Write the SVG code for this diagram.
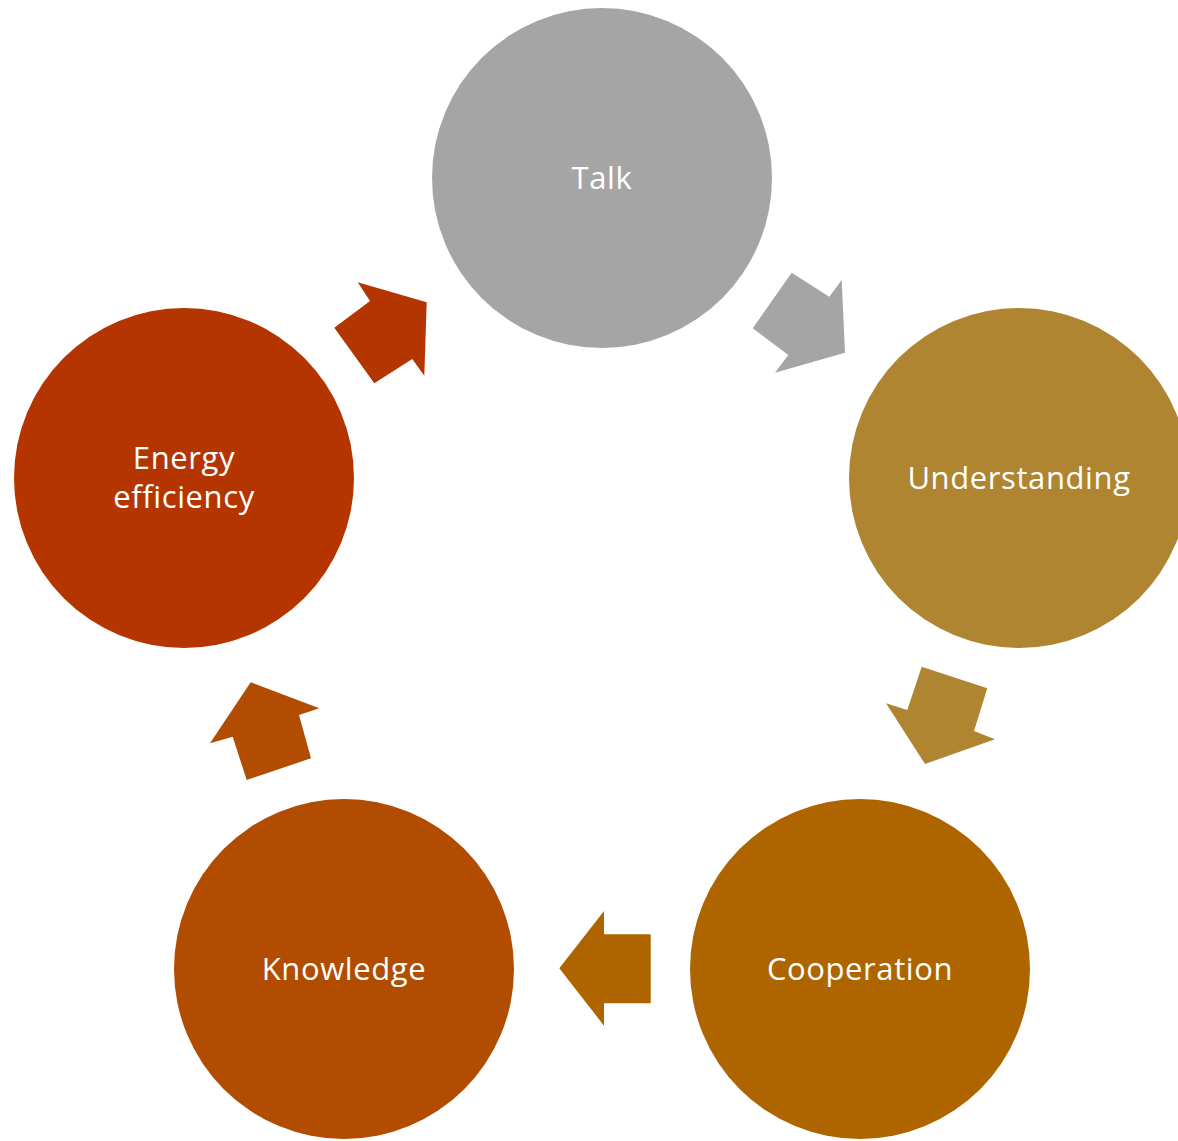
<svg xmlns="http://www.w3.org/2000/svg" width="1178" height="1141" viewBox="0 0 1178 1141">
<style>
text{font-family:"Open Sans","Noto Sans","Liberation Sans",sans-serif;font-size:31px;letter-spacing:0.6px;fill:#FFFFFF;text-anchor:middle}
</style>
<rect width="1178" height="1141" fill="#FFFFFF"/>
<g id="connectors">
<polygon fill="#A5A5A5" points="791.7,272.7 829.3,296.7 841.7,280 845,352.7 775,372.7 788.3,355 752.7,328.3"/>
<polygon fill="#AF8531" points="921.7,666.7 987.3,688.3 974,731 995,739.3 925,764 886,703.3 907.3,710"/>
<polygon fill="#AE6500" points="604,911 604,934.3 650.7,934.3 650.7,1003.3 604,1003.3 604,1025.7 559.3,968.3"/>
<polygon fill="#B14C00" points="250.7,682.3 319.3,708.3 299,715 311,758.3 246.7,780 232.7,736.7 210,743.3"/>
<polygon fill="#B53501" points="357.7,282.3 426.7,302.3 424.3,375.7 412.3,359 374.3,383.3 334.3,327.7 370,301"/>
</g>
<g id="talk"><circle cx="602" cy="178" r="170" fill="#A5A5A5"/><text x="602" y="189">Talk</text></g>
<g id="understanding"><circle cx="1019" cy="478" r="170" fill="#AF8531"/><text x="1019" y="489">Understanding</text></g>
<g id="cooperation"><circle cx="860" cy="969" r="170" fill="#AE6500"/><text x="860" y="980">Cooperation</text></g>
<g id="knowledge"><circle cx="344" cy="969" r="170" fill="#B14C00"/><text x="344" y="980">Knowledge</text></g>
<g id="energy-efficiency"><circle cx="184" cy="478" r="170" fill="#B53501"/><text x="184" y="469">Energy</text><text x="184" y="508">efficiency</text></g>
</svg>
